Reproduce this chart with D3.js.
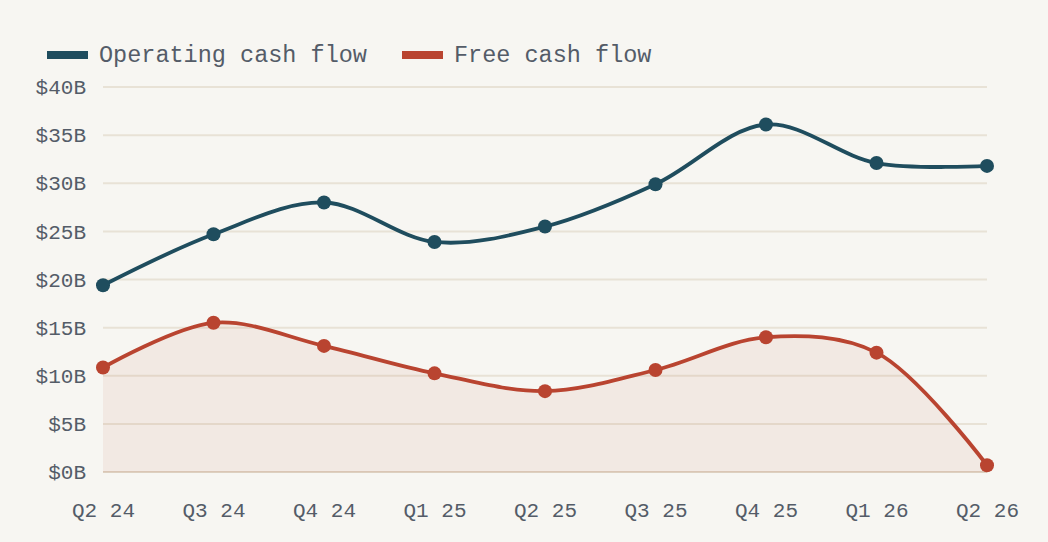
<!DOCTYPE html>
<html lang="en">
<head>
  <meta charset="UTF-8">
  <title>Cash flow</title>
  <script src="https://cdnjs.cloudflare.com/ajax/libs/d3/7.8.5/d3.min.js"></script>
  <style>
    html, body {
      margin: 0;
      padding: 0;
      background: #f7f6f2;
    }
    svg {
      display: block;
      font-family: "Liberation Mono", "DejaVu Sans Mono", monospace;
    }
  </style>
</head>
<body>
  <script>
    var quarters = ["Q2 24", "Q3 24", "Q4 24", "Q1 25", "Q2 25", "Q3 25", "Q4 25", "Q1 26", "Q2 26"];
    var operating = [19.4, 24.7, 28.0, 23.9, 25.5, 29.9, 36.1, 32.1, 31.8];
    var free = [10.85, 15.5, 13.1, 10.25, 8.4, 10.6, 14.0, 12.4, 0.7];
    var yTicks = [0, 5, 10, 15, 20, 25, 30, 35, 40];
    var seriesNames = ["Operating cash flow", "Free cash flow"];
    var seriesColors = ["#1f4d5e", "#b94430"];

    var w = 1048;
    var h = 542;
    var margin = { top: 87, right: 61, bottom: 70, left: 103 };

    var svg = d3.select("body").append("svg")
      .attr("width", w)
      .attr("height", h);

    var x = d3.scalePoint()
      .domain(quarters)
      .range([margin.left, w - margin.right]);

    var y = d3.scaleLinear()
      .domain([0, 40])
      .range([h - margin.bottom, margin.top]);

    // grid
    svg.append("g")
      .selectAll("line")
      .data(yTicks)
      .enter()
      .append("line")
      .attr("x1", margin.left)
      .attr("x2", w - margin.right)
      .attr("y1", function(d) { return y(d); })
      .attr("y2", function(d) { return y(d); })
      .attr("stroke", function(d) { return d === 0 ? "#ddd0c0" : "#e8e2d6"; })
      .attr("stroke-width", 2);

    // y axis labels
    var yAxis = d3.axisLeft(y)
      .tickValues(yTicks)
      .tickSize(0)
      .tickPadding(17)
      .tickFormat(function(d) { return "$" + d + "B"; });

    svg.append("g")
      .attr("transform", "translate(" + margin.left + ",0)")
      .call(yAxis)
      .call(function(g) { g.select(".domain").remove(); })
      .selectAll("text")
      .attr("font-family", "Liberation Mono, DejaVu Sans Mono, monospace")
      .attr("font-size", 21)
      .attr("fill", "#545c68");

    // x axis labels
    var xAxis = d3.axisBottom(x).tickSize(0).tickPadding(30);

    svg.append("g")
      .attr("transform", "translate(0," + (h - margin.bottom) + ")")
      .call(xAxis)
      .call(function(g) { g.select(".domain").remove(); })
      .selectAll("text")
      .attr("font-family", "Liberation Mono, DejaVu Sans Mono, monospace")
      .attr("font-size", 21)
      .attr("fill", "#545c68");

    var curve = d3.curveCatmullRom.alpha(0.5);

    // free cash flow area
    var area = d3.area()
      .x(function(d, i) { return x(quarters[i]); })
      .y0(y(0))
      .y1(function(d) { return y(d); })
      .curve(curve);

    svg.append("path")
      .datum(free)
      .attr("d", area)
      .attr("fill", seriesColors[1])
      .attr("fill-opacity", 0.07);

    var line = d3.line()
      .x(function(d, i) { return x(quarters[i]); })
      .y(function(d) { return y(d); })
      .curve(curve);

    [operating, free].forEach(function(values, s) {
      svg.append("path")
        .datum(values)
        .attr("d", line)
        .attr("fill", "none")
        .attr("stroke", seriesColors[s])
        .attr("stroke-width", 3.8);

      svg.append("g")
        .selectAll("circle")
        .data(values)
        .enter()
        .append("circle")
        .attr("cx", function(d, i) { return x(quarters[i]); })
        .attr("cy", function(d) { return y(d); })
        .attr("r", 7)
        .attr("fill", seriesColors[s]);
    });

    // legend
    var legendX = [47, 402];
    var legend = svg.append("g")
      .selectAll("g")
      .data(seriesNames)
      .enter()
      .append("g")
      .attr("transform", function(d, i) { return "translate(" + legendX[i] + ",51)"; });

    legend.append("rect")
      .attr("width", 41)
      .attr("height", 8)
      .attr("fill", function(d, i) { return seriesColors[i]; });

    legend.append("text")
      .attr("x", 52)
      .attr("y", 11)
      .attr("font-size", 23.5)
      .attr("fill", "#545c68")
      .text(function(d) { return d; });
  </script>
</body>
</html>
